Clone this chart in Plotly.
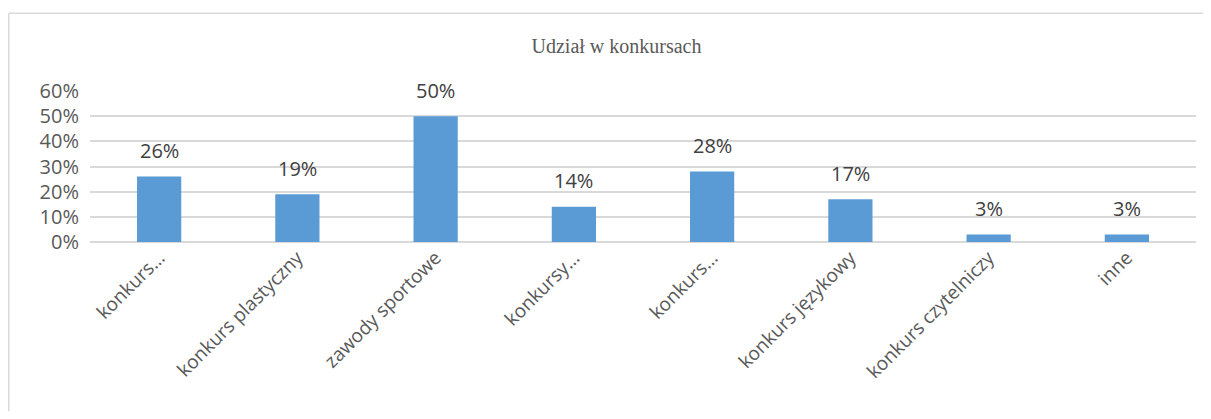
import plotly.graph_objects as go

categories = ["konkurs…", "konkurs plastyczny", "zawody sportowe", "konkursy…",
              "konkurs…", "konkurs językowy", "konkurs czytelniczy", "inne"]
values = [0.26, 0.19, 0.50, 0.14, 0.28, 0.17, 0.03, 0.03]
labels = [f"{round(v*100)}%" for v in values]
title = "Udział w konkursach"

# page body has an 8px margin; coordinates below are in figure space
W, H = 1195, 403
L, R, T, B = 82, 7, 83, 169
pw = W - L - R
ph = H - T - B

x = list(range(len(categories)))

fig = go.Figure(go.Bar(
    x=x, y=values,
    marker=dict(color="#5B9BD5", line=dict(width=0)),
    width=0.32, hoverinfo="skip",
))

for xi, v, t in zip(x, values, labels):
    fig.add_annotation(x=xi, y=v, text=t, showarrow=False, yanchor="middle",
                       yshift=26, font=dict(family="Open Sans", size=20, color="#404040"))

fig.update_layout(
    width=W, height=H,
    margin=dict(l=L, r=R, t=T, b=B),
    plot_bgcolor="white", paper_bgcolor="white",
    title=dict(text=title, x=608.5 / W, xanchor="center",
               y=1 - 38 / H, yanchor="middle",
               font=dict(family="Liberation Serif", size=20, color="#595959")),
    showlegend=False,
    xaxis=dict(tickmode="array", tickvals=x,
               ticktext=categories, tickangle=-45, range=[-0.5, 7.5],
               showgrid=False, showline=False, zeroline=False, ticks="",
               tickfont=dict(family="Open Sans", size=19, color="#595959")),
    yaxis=dict(range=[0, 0.6], dtick=0.1, tickformat=".0%",
               showgrid=True, gridcolor="#d9d9d9", gridwidth=1.5,
               zeroline=True, zerolinecolor="#d9d9d9", zerolinewidth=2,
               showline=False, ticks="", ticklabelstandoff=10,
               tickfont=dict(family="Open Sans", size=20, color="#595959")),
    shapes=[
        dict(type="line", xref="paper", yref="paper",
             x0=(0.75 - L) / pw, x1=(W - L) / pw,
             y0=(H - B - 5.25) / ph, y1=(H - B - 5.25) / ph,
             line=dict(color="#d9d9d9", width=1.5)),
        dict(type="line", xref="paper", yref="paper",
             x0=(0.75 - L) / pw, x1=(0.75 - L) / pw,
             y0=(H - B - 5.25) / ph, y1=-B / ph,
             line=dict(color="#d9d9d9", width=1.5)),
    ],
)

fig.write_html(
    "out.html",
    config={"displayModeBar": False},
    post_script="document.documentElement.style.overflow='hidden';document.body.style.overflow='hidden';",
)
